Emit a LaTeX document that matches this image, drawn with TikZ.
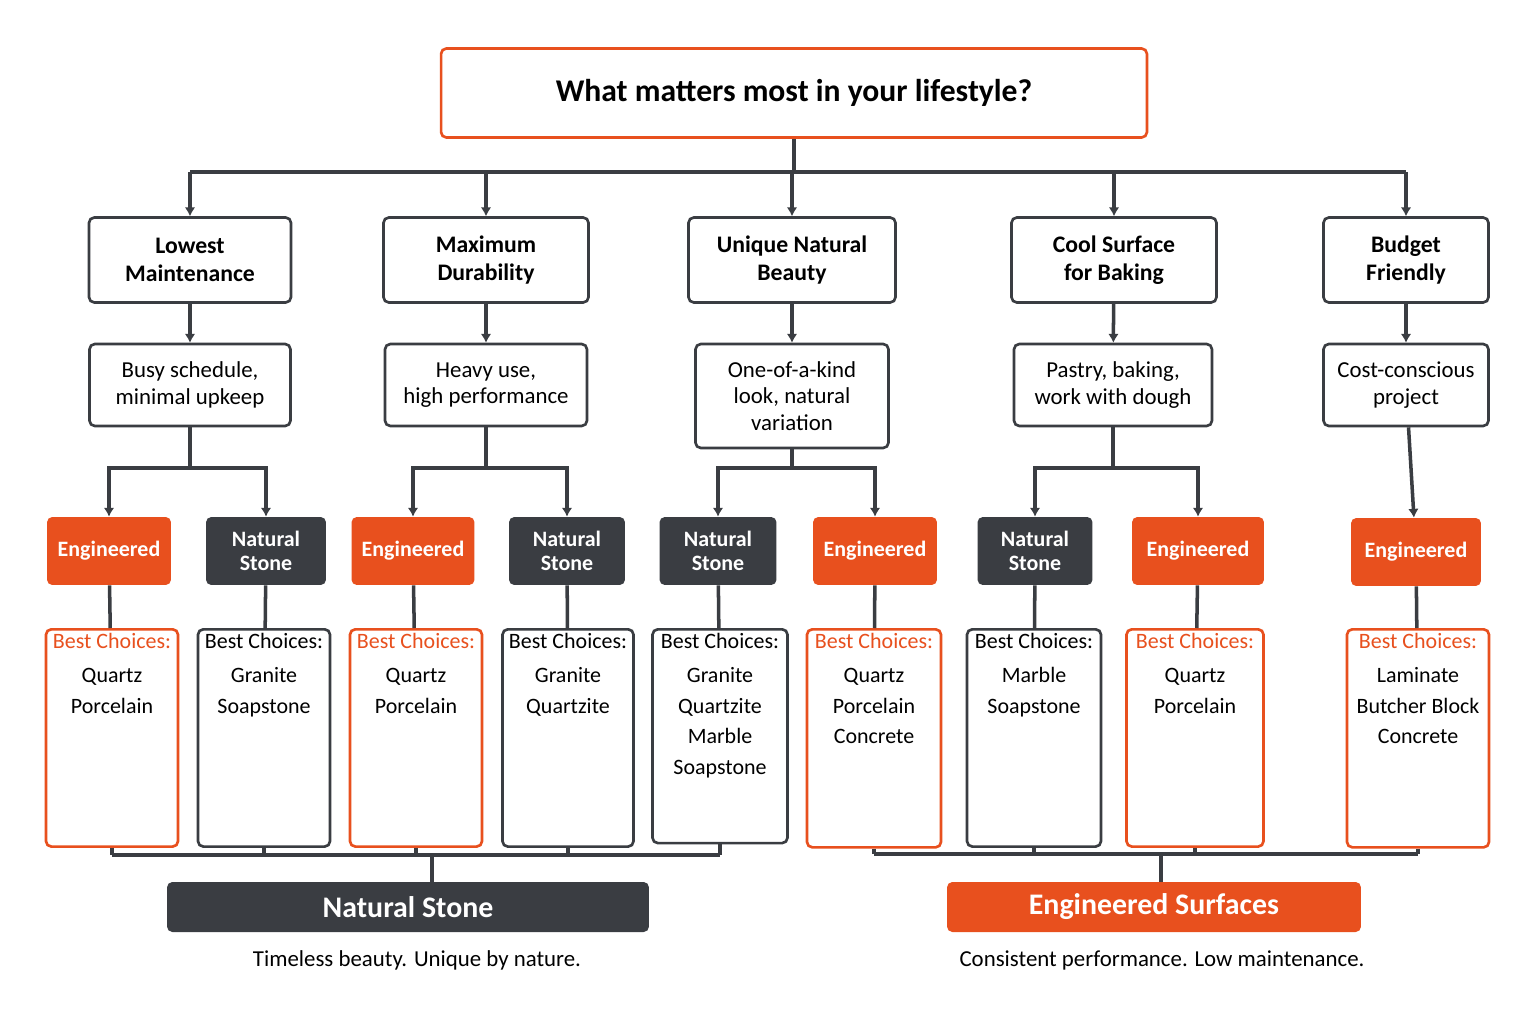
\documentclass[tikz,border=0pt]{standalone}
\usepackage{fontspec}
\setmainfont{Carlito}
\usetikzlibrary{arrows.meta,positioning}
\definecolor{accent}{HTML}{E8501E}
\definecolor{slate}{HTML}{3A3D42}

\begin{document}
\begin{tikzpicture}[x=0.02cm,y=-0.02cm,
    box/.style={rectangle,rounded corners=3pt,draw=slate,line width=1.5pt,fill=white,align=center,font=\fontsize{13}{15}\selectfont,inner sep=2pt},
    cat/.style={box,font=\bfseries\fontsize{13.5}{16}\selectfont,minimum height=1.7cm},
    desc/.style={box,minimum height=1.64cm},
    eng/.style={rectangle,rounded corners=3pt,fill=accent,text=white,font=\bfseries\fontsize{12.5}{14}\selectfont,minimum height=1.36cm,align=center},
    nat/.style={eng,fill=slate},
    pick/.style={box,anchor=north,minimum height=3.72cm,text depth=2.6cm,font=\fontsize{12.5}{17.5}\selectfont},
    opick/.style={pick,draw=accent},
    line/.style={draw=slate,line width=2pt},
    arrow/.style={line,-{Latex[length=5pt,width=6pt]}}
]
    \useasboundingbox (0,0) rectangle (1536,1021);
    \fill[white] (0,0) rectangle (1536,1021);

    % Question
    \node[box,draw=accent,minimum width=14.12cm,minimum height=1.78cm,font=\bfseries\fontsize{18}{20}\selectfont] (title) at (794,93) {What matters most in your lifestyle?};

    % Priorities
    \node[cat,minimum width=4.04cm] (c1) at (190,260) {Lowest\\Maintenance};
    \node[cat,minimum width=4.1cm] (c2) at (486,260) {Maximum\\Durability};
    \node[cat,minimum width=4.14cm] (c3) at (792,260) {Unique Natural\\Beauty};
    \node[cat,minimum width=4.1cm] (c4) at (1114,260) {Cool Surface\\for Baking};
    \node[cat,minimum width=3.3cm] (c5) at (1406,260) {Budget\\Friendly};

    % Situations
    \node[desc,minimum width=4.02cm] (d1) at (190,385) {Busy schedule,\\minimal upkeep};
    \node[desc,minimum width=4.04cm] (d2) at (486,385) {Heavy use,\\high performance};
    \node[desc,minimum width=3.86cm,minimum height=2.08cm] (d3) at (792,396) {One-of-a-kind\\look, natural\\variation};
    \node[desc,minimum width=3.96cm] (d4) at (1113,385) {Pastry, baking,\\work with dough};
    \node[desc,minimum width=3.3cm] (d5) at (1406,385) {Cost-conscious\\project};

    % Material types
    \node[eng,minimum width=2.48cm] (e1) at (109,551) {Engineered};
    \node[nat,minimum width=2.4cm] (n1) at (266,551) {Natural\\Stone};
    \node[eng,minimum width=2.46cm] (e2) at (413,551) {Engineered};
    \node[nat,minimum width=2.32cm] (n2) at (567,551) {Natural\\Stone};
    \node[nat,minimum width=2.34cm] (n3) at (718,551) {Natural\\Stone};
    \node[eng,minimum width=2.48cm] (e3) at (875,551) {Engineered};
    \node[nat,minimum width=2.3cm] (n4) at (1035,551) {Natural\\Stone};
    \node[eng,minimum width=2.64cm] (e4) at (1198,551) {Engineered};
    \node[eng,minimum width=2.6cm] (e5) at (1416,552) {Engineered};

    % Best choices
    \node[opick,minimum width=2.64cm] (b1) at (112,628) {\textcolor{accent}{Best Choices:}\\[2pt]Quartz\\Porcelain};
    \node[pick,minimum width=2.64cm] (b2) at (264,628) {Best Choices:\\[2pt]Granite\\Soapstone};
    \node[opick,minimum width=2.64cm] (b3) at (416,628) {\textcolor{accent}{Best Choices:}\\[2pt]Quartz\\Porcelain};
    \node[pick,minimum width=2.62cm] (b4) at (568,628) {Best Choices:\\[2pt]Granite\\Quartzite};
    \node[pick,minimum width=2.7cm,text depth=1.3cm] (b5) at (720,628) {Best Choices:\\[2pt]Granite\\Quartzite\\Marble\\Soapstone};
    \node[opick,minimum width=2.68cm,text depth=2cm] (b6) at (874,628) {\textcolor{accent}{Best Choices:}\\[2pt]Quartz\\Porcelain\\Concrete};
    \node[pick,minimum width=2.68cm] (b7) at (1034,628) {Best Choices:\\[2pt]Marble\\Soapstone};
    \node[opick,minimum width=2.74cm] (b8) at (1195,628) {\textcolor{accent}{Best Choices:}\\[2pt]Quartz\\Porcelain};
    \node[opick,minimum width=2.84cm,text depth=2cm] (b9) at (1418,628) {\textcolor{accent}{Best Choices:}\\[2pt]Laminate\\Butcher Block\\Concrete};

    % Summary bars
    \node[nat,minimum width=9.64cm,minimum height=1cm,font=\bfseries\fontsize{17}{19}\selectfont] (stone) at (408,907) {Natural Stone};
    \node[eng,minimum width=8.28cm,minimum height=1cm,font=\bfseries\fontsize{17}{19}\selectfont] (surf) at (1154,907) {Engineered Surfaces};
    \node[font=\fontsize{13}{15}\selectfont] (tag1) at (417,960) {Timeless beauty. Unique by nature.};
    \node[font=\fontsize{13}{15}\selectfont] (tag2) at (1162,960) {Consistent performance. Low maintenance.};

    % Connectors
    \coordinate (bus) at (0,172);
    \draw[line] (title.south) -- (title.south |- bus);
    \draw[line] (c1.north |- bus) -- (c5.north |- bus);
    \foreach \c in {c1,c2,c3,c4,c5}
        \draw[arrow] (\c.north |- bus) -- (\c.north);
    \foreach \c/\d in {c1/d1,c2/d2,c3/d3,c4/d4,c5/d5}
        \draw[arrow] (\c) -- (\d);
    \foreach \d/\l/\r in {d1/e1/n1,d2/e2/n2,d3/n3/e3,d4/n4/e4} {
        \draw[line] (\d.south) -- (\d.south |- 0,468);
        \draw[arrow] (\d.south |- 0,468) -| (\l.north);
        \draw[arrow] (\d.south |- 0,468) -| (\r.north);
    }
    \draw[arrow] (d5) -- (e5);
    \foreach \t/\b in {e1/b1,n1/b2,e2/b3,n2/b4,n3/b5,e3/b6,n4/b7,e4/b8,e5/b9}
        \draw[line] (\t) -- (\b);
    \foreach \b in {b1,b2,b3,b4,b5}
        \draw[line] (\b.south) -- (\b.south |- 0,855);
    \draw[line] (b1.south |- 0,855) -- (b5.south |- 0,855);
    \draw[line] (432,855) -- (stone.north -| 432,0);
    \foreach \b in {b6,b7,b8,b9}
        \draw[line] (\b.south) -- (\b.south |- 0,854);
    \draw[line] (b6.south |- 0,854) -- (b9.south |- 0,854);
    \draw[line] (1161,854) -- (surf.north -| 1161,0);
\end{tikzpicture}
\end{document}
